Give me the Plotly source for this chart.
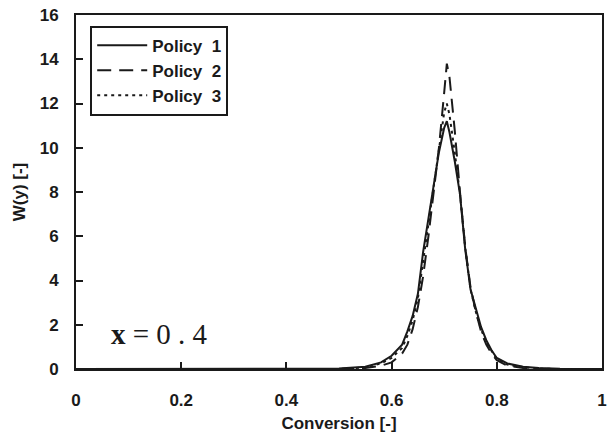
import plotly.graph_objects as go

# Policy 1 (solid)
x1 = [0.0, 0.45, 0.50, 0.55, 0.58, 0.60, 0.62, 0.63, 0.64, 0.65, 0.66, 0.67, 0.68, 0.69, 0.70, 0.705,
      0.71, 0.72, 0.73, 0.74, 0.75, 0.76, 0.77, 0.78, 0.79, 0.80, 0.82, 0.85, 0.88, 0.92, 0.95, 1.0]
y1 = [0, 0, 0.02, 0.1, 0.3, 0.6, 1.1, 1.7, 2.4, 3.4, 5.3, 6.8, 8.4, 9.8, 10.9, 11.2,
      10.7, 9.4, 7.9, 5.4, 3.6, 2.7, 1.9, 1.3, 0.85, 0.5, 0.25, 0.1, 0.04, 0.01, 0, 0]

# Policy 2 (dashed)
x2 = [0.0, 0.50, 0.55, 0.58, 0.60, 0.62, 0.63, 0.64, 0.65, 0.66, 0.67, 0.68, 0.69, 0.70, 0.705,
      0.71, 0.72, 0.73, 0.74, 0.75, 0.76, 0.77, 0.78, 0.79, 0.80, 0.82, 0.85, 0.88, 0.90, 1.0]
y2 = [0, 0, 0.05, 0.15, 0.3, 0.7, 1.1, 1.8, 2.8, 4.2, 6.0, 8.0, 10.0, 12.5, 13.8,
      13.2, 10.8, 8.0, 5.5, 3.7, 2.6, 1.7, 1.1, 0.7, 0.4, 0.15, 0.05, 0.01, 0, 0]

# Policy 3 (dotted)
x3 = [0.0, 0.50, 0.55, 0.58, 0.60, 0.62, 0.63, 0.64, 0.65, 0.66, 0.67, 0.68, 0.69, 0.70, 0.705,
      0.71, 0.72, 0.73, 0.74, 0.75, 0.76, 0.77, 0.78, 0.79, 0.80, 0.82, 0.85, 0.88, 0.92, 1.0]
y3 = [0, 0, 0.07, 0.25, 0.5, 0.95, 1.5, 2.2, 3.2, 4.9, 6.6, 8.3, 10.0, 11.6, 12.0,
      11.5, 9.8, 7.9, 5.5, 3.6, 2.6, 1.8, 1.2, 0.8, 0.45, 0.2, 0.08, 0.02, 0, 0]

series_names = ["Policy  1", "Policy  2", "Policy  3"]
x_ticks = [0, 0.2, 0.4, 0.6, 0.8, 1]
x_tick_labels = ["0", "0.2", "0.4", "0.6", "0.8", "1"]
y_ticks = [0, 2, 4, 6, 8, 10, 12, 14, 16]

FONT = "Liberation Sans"
INK = "#1a1a1a"
fig = go.Figure()
fig.add_trace(go.Scatter(x=x1, y=y1, mode="lines", name=series_names[0],
                         line=dict(color=INK, width=2, dash="solid")))
fig.add_trace(go.Scatter(x=x2, y=y2, mode="lines", name=series_names[1],
                         line=dict(color=INK, width=2, dash="14px,8px")))
fig.add_trace(go.Scatter(x=x3, y=y3, mode="lines", name=series_names[2],
                         line=dict(color=INK, width=2, dash="3px,4px")))

fig.add_annotation(x=0.158, y=1.6, xref="x", yref="y", showarrow=False,
                   text="<b>x</b> = 0 . 4",
                   font=dict(family="Liberation Serif", size=29, color=INK))

fig.update_layout(
    template="none",
    width=608, height=437,
    margin=dict(l=76, r=6, t=15, b=68, autoexpand=False),
    paper_bgcolor="white", plot_bgcolor="white",
    font=dict(family=FONT, size=17, color=INK),
    showlegend=True,
    legend=dict(x=0.027, y=0.97, xanchor="left", yanchor="top",
                bgcolor="white", bordercolor=INK, borderwidth=2,
                font=dict(family=FONT, size=17, color=INK, weight="bold"),
                tracegroupgap=0, itemwidth=50),
    xaxis=dict(range=[0, 1], tickvals=x_ticks, ticktext=x_tick_labels, automargin=False,
               ticks="inside", ticklen=7, tickwidth=1.5, tickcolor=INK,
               showline=True, linecolor=INK, linewidth=2, mirror=True,
               showgrid=False, zeroline=False, ticklabelstandoff=15,
               tickfont=dict(family=FONT, size=17, weight="bold"),
               title=dict(text="<b>Conversion [-]</b>", font=dict(family=FONT, size=17), standoff=8)),
    yaxis=dict(range=[0, 16], tickvals=y_ticks, automargin=False,
               ticks="inside", ticklen=7, tickwidth=1.5, tickcolor=INK,
               showline=True, linecolor=INK, linewidth=2, mirror=True,
               showgrid=False, zeroline=False, ticklabelstandoff=12,
               tickfont=dict(family=FONT, size=17, weight="bold"),
               title=dict(text="<b>W(y) [-]</b>", font=dict(family=FONT, size=17), standoff=10)),
)

fig.write_html("out.html", config={"displayModeBar": False},
               post_script="document.body.style.margin='0';document.body.style.overflow='hidden';")
